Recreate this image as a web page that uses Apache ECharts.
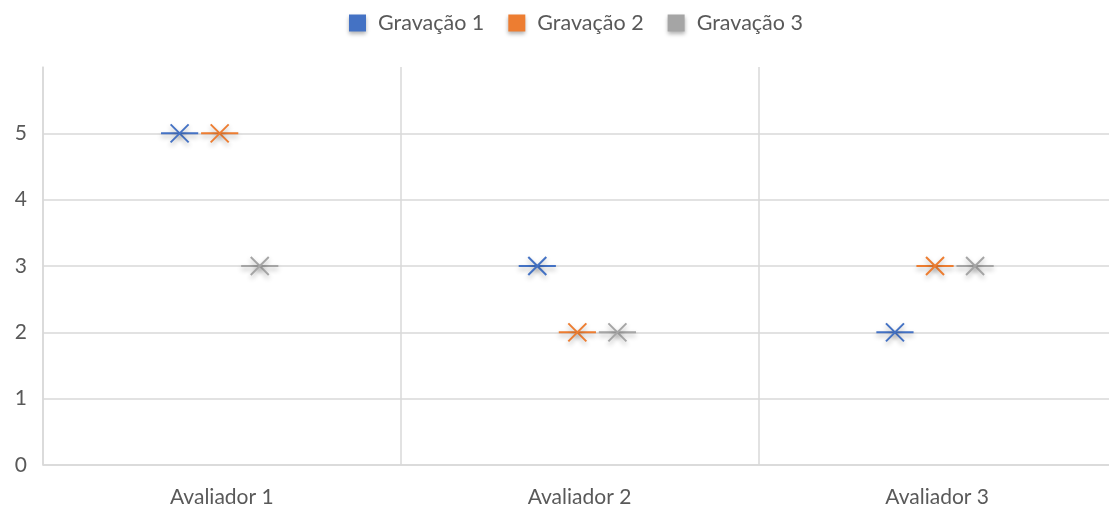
<!DOCTYPE html>
<html>
<head>
<meta charset="utf-8">
<script src="https://cdn.jsdelivr.net/npm/echarts@6/dist/echarts.min.js"></script>
<style>html,body{margin:0;padding:0;background:#fff}#c{width:1109px;height:513px}</style>
</head>
<body>
<div id="c"></div>
<script>
const categories = ['Avaliador 1', 'Avaliador 2', 'Avaliador 3'];
const seriesNames = ['Gravação 1', 'Gravação 2', 'Gravação 3'];
const gravacao1 = [5, 3, 2];
const gravacao2 = [5, 2, 3];
const gravacao3 = [3, 2, 3];
const colors = ['#4472C4', '#ED7D31', '#A5A5A5'];
const FONT = 'Lato, "Open Sans", sans-serif';

function makeRender(idx) {
  return function (params, api) {
    const pt = api.coord([api.value(0), api.value(1)]);
    const band = api.size([1, 0])[0];
    const cx = pt[0] + ((idx - 1) * 0.112 - 0.006) * band;
    const cy = pt[1];
    const hl = band * 0.052;
    const a = 9;
    const col = colors[idx];
    const style = { stroke: col, lineWidth: 2, fill: null,
      shadowBlur: 5, shadowOffsetY: 3, shadowColor: 'rgba(0,0,0,0.3)' };
    return {
      type: 'group',
      children: [
        { type: 'line', shape: { x1: cx - hl, y1: cy, x2: cx + hl, y2: cy }, style: style },
        { type: 'line', shape: { x1: cx - a, y1: cy - a, x2: cx + a, y2: cy + a }, style: style },
        { type: 'line', shape: { x1: cx - a, y1: cy + a, x2: cx + a, y2: cy - a }, style: style }
      ]
    };
  };
}

const allData = [gravacao1, gravacao2, gravacao3];
const chart = echarts.init(document.getElementById('c'), null, { renderer: 'canvas' });
chart.setOption({
  animation: false,
  color: colors,
  textStyle: { fontFamily: FONT },
  legend: {
    top: 7, left: 344,
    icon: 'rect', itemWidth: 17, itemHeight: 17, itemGap: 24,
    textStyle: { color: '#595959', fontSize: 21.5, fontFamily: FONT, padding: [0, 0, 0, 7] },
    itemStyle: { shadowBlur: 4, shadowOffsetY: 2, shadowColor: 'rgba(0,0,0,0.3)' },
    data: seriesNames
  },
  grid: { left: 43, width: 1073, top: 67, height: 398, containLabel: false, outerBoundsMode: 'none' },
  xAxis: {
    type: 'category', data: categories, boundaryGap: true,
    axisLine: { show: true, lineStyle: { color: '#D9D9D9', width: 1.5 } },
    axisTick: { show: false },
    axisLabel: { color: '#595959', fontSize: 21, margin: 22, fontFamily: FONT },
    splitLine: { show: true, lineStyle: { color: '#D9D9D9', width: 1.5 } }
  },
  yAxis: {
    type: 'value', min: 0, max: 6, interval: 1,
    axisLine: { show: true, lineStyle: { color: '#D9D9D9', width: 1.5 } },
    axisTick: { show: false },
    axisLabel: { color: '#595959', fontSize: 21, margin: 16, showMaxLabel: false, fontFamily: FONT },
    splitLine: { show: true, showMaxLine: false, lineStyle: { color: '#D9D9D9', width: 1.5 } }
  },
  series: allData.map(function (vals, i) {
    return {
      name: seriesNames[i], type: 'custom',
      itemStyle: { color: colors[i] },
      renderItem: makeRender(i),
      encode: { x: 0, y: 1 },
      data: vals.map(function (v, j) { return [j, v]; })
    };
  })
});
</script>
</body>
</html>
